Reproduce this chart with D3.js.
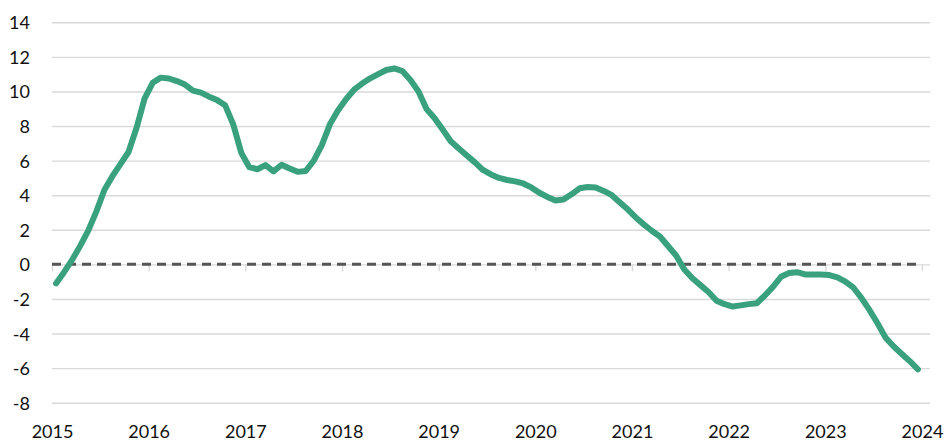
<!DOCTYPE html>
<html>
<head>
<meta charset="utf-8">
<script src="https://cdn.jsdelivr.net/npm/d3@7"></script>
<style>
  body { margin: 0; background: #fff; }
  svg text { font-family: Lato, "Open Sans", sans-serif; font-size: 18px; fill: #111; }
</style>
</head>
<body>
<svg width="951" height="441"></svg>
<script>
// monthly values, Jan 2015 .. Dec 2023
let startYear = 2015;
let values = [
  -1.1, -0.45, 0.26, 1.07, 1.95, 3.05, 4.3, 5.1, 5.8, 6.5, 7.9, 9.6,
  10.5, 10.8, 10.75, 10.6, 10.4, 10.05, 9.93, 9.7, 9.5, 9.2, 8.1, 6.45,
  5.62, 5.5, 5.74, 5.38, 5.76, 5.55, 5.35, 5.4, 6.0, 6.9, 8.1, 8.9,
  9.55, 10.1, 10.46, 10.76, 11.0, 11.24, 11.33, 11.18, 10.66, 10.0, 8.98, 8.45,
  7.8, 7.12, 6.7, 6.3, 5.9, 5.46, 5.2, 5.0, 4.88, 4.8, 4.68, 4.45,
  4.14, 3.9, 3.7, 3.75, 4.05, 4.4, 4.47, 4.45, 4.25, 4.0, 3.58, 3.17,
  2.7, 2.3, 1.93, 1.6, 1.05, 0.5, -0.3, -0.8, -1.2, -1.6, -2.1, -2.3,
  -2.44, -2.37, -2.3, -2.25, -1.8, -1.3, -0.72, -0.5, -0.45, -0.58, -0.58, -0.58,
  -0.62, -0.75, -1.0, -1.35, -1.95, -2.65, -3.42, -4.25, -4.75, -5.18, -5.6, -6.07
];
let yearTicks = [2015, 2016, 2017, 2018, 2019, 2020, 2021, 2022, 2023, 2024];
let yTicks = [-8, -6, -4, -2, 0, 2, 4, 6, 8, 10, 12, 14];

let data = values.map((v, i) => ({ t: startYear + (i + 0.5) / 12, v: v }));

let svg = d3.select("svg");

// x: decimal years, plot runs one month past 2024
let xScale = d3.scaleLinear()
  .domain([2015, 2024 + 1 / 12])
  .range([52, 930]);
let yScale = d3.scaleLinear()
  .domain([-8, 14])
  .range([402.7, 22.3]);

// horizontal gridlines
let grid = svg.append("g")
  .attr("transform", "translate(52,0)")
  .call(d3.axisLeft(yScale).tickValues(yTicks).tickSize(-878).tickFormat(""));
grid.select(".domain").remove();
grid.selectAll("line").attr("stroke", "#d9d9d9").attr("stroke-width", 1.4);

// y labels (plain hyphen for negatives, like the original)
let yAxis = svg.append("g")
  .attr("transform", "translate(52,0)")
  .call(d3.axisLeft(yScale).tickValues(yTicks).tickSize(0).tickPadding(22).tickFormat(d => String(d)));
yAxis.select(".domain").remove();
yAxis.selectAll("text").attr("dy", "0.36em");

// x axis tick marks on the zero line, labels at the bottom
let xTicks = svg.append("g")
  .attr("transform", `translate(0,${yScale(0)})`)
  .call(d3.axisBottom(xScale).tickValues(yearTicks).tickSize(7).tickFormat(""));
xTicks.select(".domain").remove();
xTicks.selectAll("line").attr("stroke", "#d9d9d9").attr("stroke-width", 1.4);

let xLabels = svg.append("g")
  .attr("transform", "translate(0,425)")
  .call(d3.axisBottom(xScale).tickValues(yearTicks).tickSize(0).tickPadding(0).tickFormat(d3.format("d")));
xLabels.select(".domain").remove();
xLabels.selectAll("text").attr("dy", "0.72em");

// dashed zero line
svg.append("line")
  .attr("x1", xScale(2015))
  .attr("x2", xScale(2024))
  .attr("y1", yScale(0))
  .attr("y2", yScale(0))
  .attr("stroke", "#555")
  .attr("stroke-width", 3)
  .attr("stroke-dasharray", "9,6");

// main series
let line = d3.line()
  .x(d => xScale(d.t))
  .y(d => yScale(d.v));

svg.append("path")
  .datum(data)
  .attr("d", line)
  .attr("fill", "none")
  .attr("stroke", "#3aa17e")
  .attr("stroke-width", 6)
  .attr("stroke-linejoin", "round")
  .attr("stroke-linecap", "round");
</script>
</body>
</html>
